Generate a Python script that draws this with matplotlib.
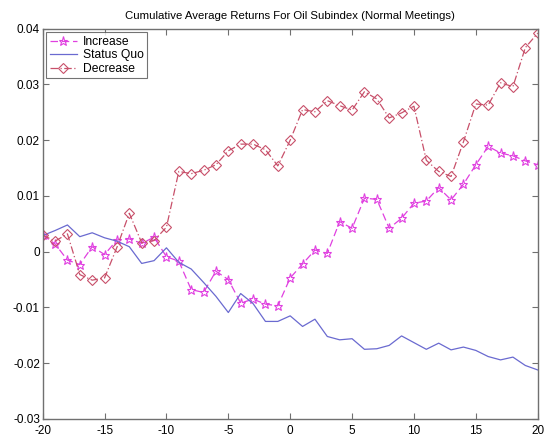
import numpy as np
import matplotlib
matplotlib.use("Agg")
import matplotlib.pyplot as plt

days = list(range(-20, 21))

increase = [0.0030, 0.0014, -0.0015, -0.0023, 0.0009, -0.0005, 0.0021, 0.0023, 0.0015, 0.0026,
            -0.0009, -0.0017, -0.0068, -0.0073, -0.0035, -0.0050, -0.0092, -0.0085, -0.0094, -0.0097,
            -0.0047, -0.0022, 0.0003, -0.0003, 0.0054, 0.0042, 0.0096, 0.0094, 0.0042, 0.0060,
            0.0087, 0.0091, 0.0115, 0.0093, 0.0121, 0.0156, 0.0189, 0.0177, 0.0172, 0.0163, 0.0156]

status_quo = [0.0029, 0.0038, 0.0048, 0.0027, 0.0034, 0.0025, 0.0019, 0.0009, -0.0021, -0.0016,
              0.0007, -0.0019, -0.0031, -0.0055, -0.0080, -0.0109, -0.0075, -0.0093, -0.0125, -0.0125,
              -0.0115, -0.0134, -0.0121, -0.0152, -0.0158, -0.0156, -0.0175, -0.0174, -0.0168, -0.0151,
              -0.0163, -0.0175, -0.0164, -0.0176, -0.0171, -0.0177, -0.0188, -0.0194, -0.0189, -0.0204, -0.0212]

decrease = [0.0030, 0.0019, 0.0032, -0.0041, -0.0051, -0.0047, 0.0008, 0.0069, 0.0016, 0.0020,
            0.0044, 0.0144, 0.0140, 0.0146, 0.0156, 0.0181, 0.0193, 0.0193, 0.0183, 0.0154,
            0.0200, 0.0255, 0.0251, 0.0271, 0.0262, 0.0254, 0.0287, 0.0274, 0.0240, 0.0249,
            0.0261, 0.0164, 0.0144, 0.0135, 0.0197, 0.0265, 0.0263, 0.0303, 0.0296, 0.0366, 0.0392]

plt.rcParams["font.family"] = "Liberation Sans"
plt.rcParams["axes.unicode_minus"] = False

fig = plt.figure(figsize=(5.53, 4.37), dpi=100)
ax = fig.add_axes([0.0772, 0.0412, 0.8951, 0.8931])

ax.plot(days, increase, color="#e040e0", linestyle=(0, (6, 3)), linewidth=0.9,
        marker="*", markersize=6.5, markerfacecolor="none", markeredgewidth=0.8,
        label="Increase")
ax.plot(days, status_quo, color="#6a6ad0", linestyle="-", linewidth=0.9,
        label="Status Quo")
ax.plot(days, decrease, color="#c8506a", linestyle=(0, (6, 2, 1, 2)), linewidth=0.9,
        marker="D", markersize=5, markerfacecolor="none", markeredgewidth=0.8,
        label="Decrease")

ax.set_xlim(-20, 20)
ax.set_ylim(-0.03, 0.04)
ax.set_xticks(np.arange(-20, 21, 5))
ax.set_yticks(np.arange(-0.03, 0.041, 0.01))
ax.set_yticklabels(["-0.03", "-0.02", "-0.01", "0", "0.01", "0.02", "0.03", "0.04"])
ax.tick_params(direction="in", top=True, right=True, labelsize=8.5,
               color="#707070", length=4, width=0.8)
ax.tick_params(axis="x", pad=4)
ax.tick_params(axis="y", pad=2)
for sp in ax.spines.values():
    sp.set_color("#707070")
    sp.set_linewidth(1.0)

ax.set_title("Cumulative Average Returns For Oil Subindex (Normal Meetings)",
             fontsize=8.2, pad=7)

leg = ax.legend(loc="upper left", fontsize=8.7, frameon=True, fancybox=False,
                edgecolor="#505050", borderaxespad=0.3, handlelength=2.2,
                borderpad=0.3, labelspacing=0.12, handletextpad=0.5)
leg.get_frame().set_linewidth(0.8)

fig.savefig("out.png", dpi=100)
